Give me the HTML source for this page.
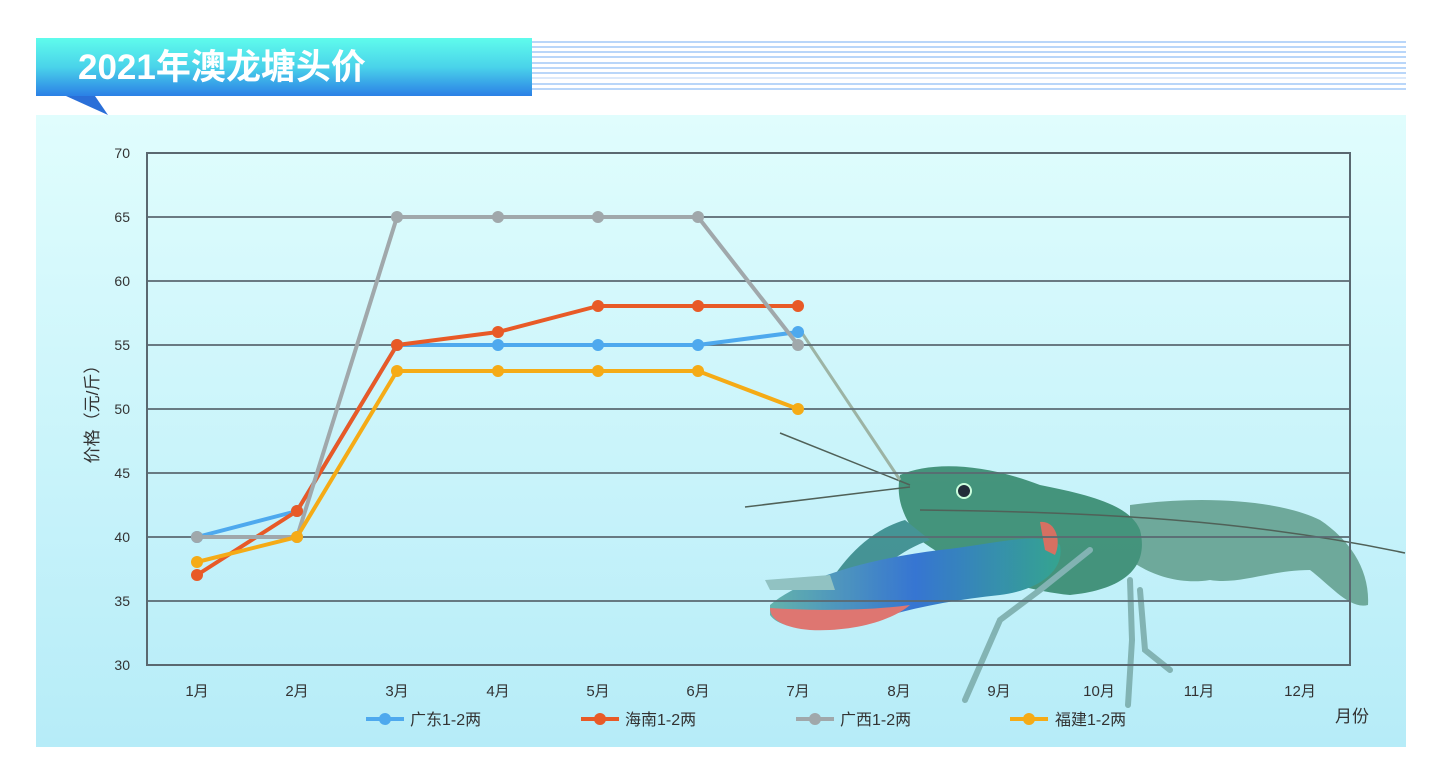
<!DOCTYPE html>
<html><head><meta charset="utf-8"><style>
html,body{margin:0;padding:0;background:#fff;}
svg{display:block;font-family:"Liberation Sans","Noto Sans CJK SC",sans-serif;}
</style></head><body>
<svg width="1442" height="781" viewBox="0 0 1442 781" xmlns="http://www.w3.org/2000/svg">
<defs>
<linearGradient id="ban" x1="0" y1="0" x2="0" y2="1">
<stop offset="0" stop-color="#5ffcec"/><stop offset="0.5" stop-color="#4ad3ea"/><stop offset="1" stop-color="#2b80e6"/></linearGradient>
<linearGradient id="bg" x1="0" y1="0" x2="0" y2="1">
<stop offset="0" stop-color="#e0fdfd"/><stop offset="1" stop-color="#b6ecf8"/></linearGradient>
<linearGradient id="claw" x1="0" y1="0" x2="1" y2="0">
<stop offset="0" stop-color="#5fb0a8"/><stop offset="0.5" stop-color="#2f6fd0"/><stop offset="1" stop-color="#2ea08a"/></linearGradient>
</defs>
<!-- header -->
<rect x="36" y="38" width="496" height="58" fill="url(#ban)"/>
<polygon points="66,96 95,96 108,115" fill="#2a6fd8"/>
<text x="78" y="79" font-size="35" font-weight="bold" fill="#fff">2021年澳龙塘头价</text>
<g stroke="#8fbdf5" stroke-width="1.3">
<line x1="532" y1="42" x2="1406" y2="42"/><line x1="532" y1="47" x2="1406" y2="47"/>
<line x1="532" y1="52" x2="1406" y2="52"/><line x1="532" y1="57" x2="1406" y2="57"/>
<line x1="532" y1="63" x2="1406" y2="63"/><line x1="532" y1="68" x2="1406" y2="68"/>
<line x1="532" y1="73" x2="1406" y2="73"/><line x1="532" y1="78" x2="1406" y2="78" stroke="#c8dcf7"/>
<line x1="532" y1="84" x2="1406" y2="84"/><line x1="532" y1="89" x2="1406" y2="89"/>
</g>
<rect x="36" y="115" width="1370" height="632" fill="url(#bg)"/>
<!-- crayfish -->
<g opacity="0.95">
<path d="M1130,505 C1200,495 1280,500 1320,520 C1350,540 1370,570 1368,605 C1350,610 1330,585 1310,570 C1270,570 1240,585 1210,580 C1180,585 1150,575 1130,560 Z" fill="#6aa696"/>
<path d="M900,475 C930,462 980,462 1040,485 C1090,495 1130,505 1140,530 C1150,570 1120,590 1070,595 C1020,590 960,570 920,540 C905,520 895,500 900,475 Z" fill="#3e8f76"/>
<path d="M905,520 C870,530 840,560 820,600 L845,605 C870,575 900,550 930,540 Z" fill="#3f8f90"/>
<path d="M770,605 C800,580 860,560 940,550 C990,545 1040,530 1060,545 C1065,570 1040,590 1000,595 C950,600 900,610 860,625 C820,632 780,630 770,615 Z" fill="url(#claw)"/>
<path d="M770,608 C800,610 860,612 910,605 C890,622 850,632 810,630 C785,628 770,620 770,608 Z" fill="#e0706a"/>
<path d="M765,580 L830,575 L835,590 L770,590 Z" fill="#8fc0c0"/>
<path d="M1040,522 C1055,520 1062,540 1055,555 L1045,550 Z" fill="#d86a5a"/>
<g stroke="#7fb0b0" stroke-width="6" fill="none" stroke-linecap="round">
<path d="M1090,550 L1040,590 L1000,620 L965,700"/>
<path d="M1130,580 L1132,640 L1128,705"/>
<path d="M1140,590 L1145,650 L1170,670"/>
</g>
<circle cx="964" cy="491" r="7" fill="#1a2230" stroke="#cfd" stroke-width="2"/>
<g stroke="#4a5a50" stroke-width="1.5" fill="none">
<path d="M910,485 L780,433"/><path d="M910,487 L745,507"/>
<path d="M920,510 C1100,512 1250,520 1405,553"/>
<path d="M900,480 L800,330" stroke="#9ab0a0" stroke-width="3"/>
</g>
</g>
<!-- grid -->
<g stroke="#5a6870" stroke-width="1.8">
<line x1="147" y1="217" x2="1350" y2="217"/><line x1="147" y1="281" x2="1350" y2="281"/>
<line x1="147" y1="345" x2="1350" y2="345"/><line x1="147" y1="409" x2="1350" y2="409"/>
<line x1="147" y1="473" x2="1350" y2="473"/><line x1="147" y1="537" x2="1350" y2="537"/>
<line x1="147" y1="601" x2="1350" y2="601"/>
</g>
<rect x="147" y="153" width="1203" height="512" fill="none" stroke="#5a6870" stroke-width="2"/>
<g font-size="14" fill="#333" text-anchor="end">
<text x="130" y="158">70</text><text x="130" y="222">65</text><text x="130" y="286">60</text>
<text x="130" y="350">55</text><text x="130" y="414">50</text><text x="130" y="478">45</text>
<text x="130" y="542">40</text><text x="130" y="606">35</text><text x="130" y="670">30</text>
</g>
<g font-size="15" fill="#333" text-anchor="middle">
<text x="197" y="696">1月</text><text x="297" y="696">2月</text><text x="397" y="696">3月</text>
<text x="498" y="696">4月</text><text x="598" y="696">5月</text><text x="698" y="696">6月</text>
<text x="798" y="696">7月</text><text x="899" y="696">8月</text><text x="999" y="696">9月</text>
<text x="1099" y="696">10月</text><text x="1199" y="696">11月</text><text x="1300" y="696">12月</text>
</g>
<text x="1335" y="722" font-size="17" fill="#333">月份</text>
<text transform="translate(98,410) rotate(-90)" font-size="17" fill="#333" text-anchor="middle">价格（元/斤）</text>
<!-- series -->
<g stroke-width="4" fill="none" stroke-linejoin="round">
<polyline stroke="#4ea9ee" points="197,537 297,511 397,345 498,345 598,345 698,345 798,332"/>
<polyline stroke="#e85a27" points="197,575 297,511 397,345 498,332 598,306 698,306 798,306"/>
<polyline stroke="#a0a8ab" points="197,537 297,537 397,217 498,217 598,217 698,217 798,345"/>
<polyline stroke="#f5ab16" points="197,562 297,537 397,371 498,371 598,371 698,371 798,409"/>
</g>
<g fill="#4ea9ee"><circle cx="197" cy="537" r="6"/><circle cx="297" cy="511" r="6"/><circle cx="397" cy="345" r="6"/><circle cx="498" cy="345" r="6"/><circle cx="598" cy="345" r="6"/><circle cx="698" cy="345" r="6"/><circle cx="798" cy="332" r="6"/></g>
<g fill="#e85a27"><circle cx="197" cy="575" r="6"/><circle cx="297" cy="511" r="6"/><circle cx="397" cy="345" r="6"/><circle cx="498" cy="332" r="6"/><circle cx="598" cy="306" r="6"/><circle cx="698" cy="306" r="6"/><circle cx="798" cy="306" r="6"/></g>
<g fill="#a0a8ab"><circle cx="197" cy="537" r="6"/><circle cx="297" cy="537" r="6"/><circle cx="397" cy="217" r="6"/><circle cx="498" cy="217" r="6"/><circle cx="598" cy="217" r="6"/><circle cx="698" cy="217" r="6"/><circle cx="798" cy="345" r="6"/></g>
<g fill="#f5ab16"><circle cx="197" cy="562" r="6"/><circle cx="297" cy="537" r="6"/><circle cx="397" cy="371" r="6"/><circle cx="498" cy="371" r="6"/><circle cx="598" cy="371" r="6"/><circle cx="698" cy="371" r="6"/><circle cx="798" cy="409" r="6"/></g>
<!-- legend -->
<g stroke-width="4">
<line x1="366" y1="719" x2="404" y2="719" stroke="#4ea9ee"/><circle cx="385" cy="719" r="6" fill="#4ea9ee"/>
<line x1="581" y1="719" x2="619" y2="719" stroke="#e85a27"/><circle cx="600" cy="719" r="6" fill="#e85a27"/>
<line x1="796" y1="719" x2="834" y2="719" stroke="#a0a8ab"/><circle cx="815" cy="719" r="6" fill="#a0a8ab"/>
<line x1="1010" y1="719" x2="1048" y2="719" stroke="#f5ab16"/><circle cx="1029" cy="719" r="6" fill="#f5ab16"/>
</g>
<g font-size="16" fill="#333">
<text x="410" y="725">广东1-2两</text><text x="625" y="725">海南1-2两</text>
<text x="840" y="725">广西1-2两</text><text x="1055" y="725">福建1-2两</text>
</g>
</svg>
</body></html>
